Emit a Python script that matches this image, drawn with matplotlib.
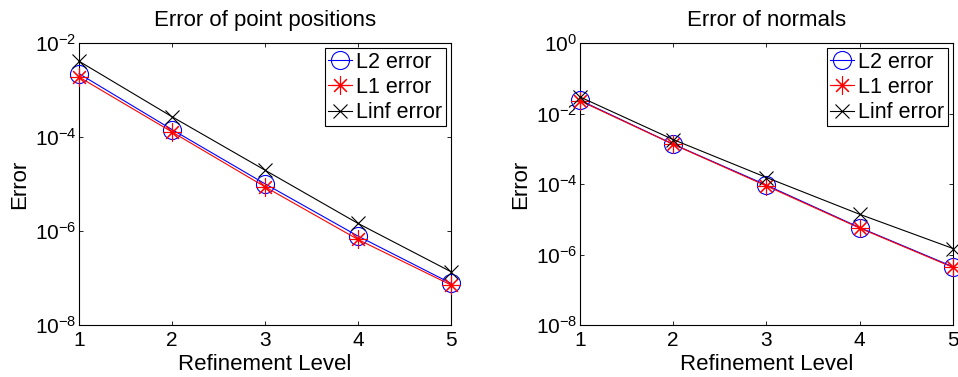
import numpy as np
import matplotlib
matplotlib.use("Agg")
import matplotlib.pyplot as plt
from matplotlib.ticker import FixedLocator, LogFormatterMathtext, NullLocator

plt.rcParams["font.family"] = ["Liberation Sans", "DejaVu Sans"]
plt.rcParams["mathtext.default"] = "regular"

levels = [1, 2, 3, 4, 5]

# Error of point positions
pos_l2 = [2.23e-3, 1.44e-4, 1.01e-5, 7.8e-7, 7.7e-8]
pos_l1 = [1.89e-3, 1.28e-4, 8.7e-6, 6.6e-7, 7.1e-8]
pos_linf = [4.1e-3, 2.7e-4, 1.97e-5, 1.45e-6, 1.36e-7]

# Error of normals
nrm_l2 = [2.38e-2, 1.35e-3, 9.3e-5, 5.8e-6, 4.5e-7]
nrm_l1 = [2.29e-2, 1.33e-3, 8.8e-5, 5.6e-6, 4.3e-7]
nrm_linf = [2.95e-2, 1.82e-3, 1.53e-4, 1.38e-5, 1.48e-6]

series_labels = ["L2 error", "L1 error", "Linf error"]
titles = ["Error of point positions", "Error of normals"]
xlabel = "Refinement Level"
ylabel = "Error"

FS_LABEL = 16
FS_TICK = 15
FS_LEG = 15.5

fig = plt.figure(figsize=(9.58, 3.77), dpi=100)
ax_pos = [
    [0.0825, 0.1379, 0.3883, 0.748],
    [0.6054, 0.1379, 0.3894, 0.748],
]
ylims = [(1e-8, 1e-2), (1e-8, 1e0)]
yticks = [[1e-8, 1e-6, 1e-4, 1e-2], [1e-8, 1e-6, 1e-4, 1e-2, 1e0]]
data = [(pos_l2, pos_l1, pos_linf), (nrm_l2, nrm_l1, nrm_linf)]

for i in range(2):
    ax = fig.add_axes(ax_pos[i])
    l2, l1, linf = data[i]
    ax.semilogy(levels, l2, color="#0000ff", marker="o", markersize=13,
                markerfacecolor="none", markeredgewidth=0.8, linewidth=0.8,
                clip_on=False, zorder=3, label=series_labels[0])
    ax.semilogy(levels, l1, color="#ff0000", marker=(8, 2, 0), markersize=13,
                markeredgewidth=0.8, linewidth=0.8,
                clip_on=False, zorder=3, label=series_labels[1])
    ax.semilogy(levels, linf, color="black", marker="x", markersize=10,
                markeredgewidth=0.8, linewidth=0.8,
                clip_on=False, zorder=3, label=series_labels[2])
    ax.set_xlim(1, 5)
    ax.set_ylim(*ylims[i])
    ax.set_xticks(levels)
    ax.yaxis.set_major_locator(FixedLocator(yticks[i]))
    ax.yaxis.set_major_formatter(LogFormatterMathtext())
    ax.yaxis.set_minor_locator(NullLocator())
    ax.tick_params(which="both", direction="in", top=True, right=True,
                   length=3, width=0.6, labelsize=FS_TICK)
    ax.tick_params(axis="y", pad=2)
    ax.tick_params(axis="x", pad=4)
    for s in ax.spines.values():
        s.set_linewidth(0.8)
    ax.set_title(titles[i], fontsize=FS_LABEL, pad=12)
    ax.set_xlabel(xlabel, fontsize=FS_LABEL, labelpad=3)
    ax.set_ylabel(ylabel, fontsize=FS_LABEL, labelpad=3)
    leg = ax.legend(loc="upper right", fontsize=FS_LEG, frameon=True, fancybox=False,
                    edgecolor="black", framealpha=1, borderpad=0.15,
                    labelspacing=0.2, handlelength=1.1, handletextpad=0.2,
                    borderaxespad=0.25)
    leg.get_frame().set_linewidth(0.8)

fig.savefig("out.png", dpi=100)
